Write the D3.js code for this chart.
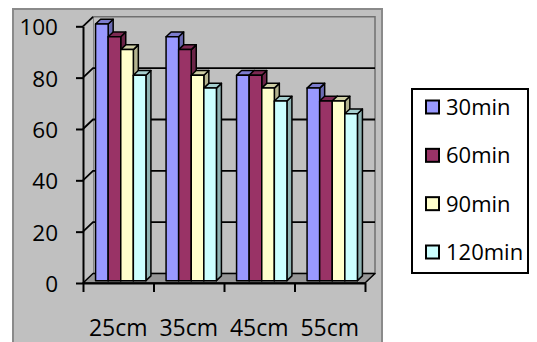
<!DOCTYPE html>
<html>
<head>
<meta charset="utf-8">
<script src="https://cdn.jsdelivr.net/npm/d3@7"></script>
<style>
  html, body { margin: 0; padding: 0; background: #ffffff; }
  svg { display: block; }
</style>
</head>
<body>
<svg id="chart" width="537" height="342"></svg>
<script>
// ---- data ----
const categories = ["25cm", "35cm", "45cm", "55cm"];
const seriesNames = ["30min", "60min", "90min", "120min"];
const values30 = [100, 95, 80, 75];
const values60 = [95, 90, 80, 70];
const values90 = [90, 80, 75, 70];
const values120 = [80, 75, 70, 65];
const seriesColors = ["#9999FF", "#993366", "#FFFFCC", "#CCFFFF"];
const yTicks = [0, 20, 40, 60, 80, 100];

const seriesValues = [values30, values60, values90, values120];

const svg = d3.select("#chart");
const font = "'Open Sans', sans-serif";

// oblique projection: depth goes up and to the right
const DX = 10, DY = 9.5;
const z0 = 0.25, z1 = 0.75;       // bars sit in the middle of the floor depth

const frontLeft = 83, frontRight = 365, frontBase = 283, frontTop = 26.3;
const y = d3.scaleLinear().domain([0, 100]).range([frontBase, frontTop]);
const x0 = d3.scaleBand().domain(categories).range([frontLeft, frontRight]);
const x1 = d3.scaleBand().domain(seriesNames).range([0, x0.bandwidth()]).paddingOuter(0.8);
const P = (px, py, z) => [px + z * DX, py - z * DY];
const poly = pts => pts.map(p => p.join(",")).join(" ");

// ---- plot background ----
svg.append("rect")
  .attr("x", 13).attr("y", 9).attr("width", 369).attr("height", 345)
  .attr("fill", "#c0c0c0").attr("stroke", "#8a8a8a").attr("stroke-width", 2);

// ---- walls ----
const wall = svg.append("g");
// back wall
wall.append("polygon")
  .attr("points", poly([P(frontLeft, y(0), 1), P(frontLeft, y(100), 1), P(frontRight, y(100), 1), P(frontRight, y(0), 1)]))
  .attr("fill", "#c0c0c0").attr("stroke", "#707070").attr("stroke-width", 1.5);
// side wall
wall.append("polygon")
  .attr("points", poly([P(frontLeft, y(0), 0), P(frontLeft, y(100), 0), P(frontLeft, y(100), 1), P(frontLeft, y(0), 1)]))
  .attr("fill", "#c0c0c0").attr("stroke", "none");

// gridlines: diagonal on the side wall, horizontal on the back wall
const grid = svg.append("g").attr("stroke", "#000").attr("stroke-width", 1.8).attr("fill", "none");
yTicks.filter(v => v > 0).forEach(v => {
  const a = P(frontLeft, y(v), 0), b = P(frontLeft, y(v), 1), c = P(frontRight, y(v), 1);
  grid.append("polyline").attr("points", poly(v < 100 ? [a, b, c] : [a, b]));
});

// floor
svg.append("polygon")
  .attr("points", poly([P(frontLeft, y(0), 0), P(frontRight, y(0), 0), P(frontRight, y(0), 1), P(frontLeft, y(0), 1)]))
  .attr("fill", "#969696").attr("stroke", "#000").attr("stroke-width", 1.5).attr("stroke-linejoin", "round");

// ---- bars ----
const barsG = svg.append("g")
  .attr("stroke", "#000").attr("stroke-width", 1.5).attr("stroke-linejoin", "round");
const w = x1.bandwidth();
categories.forEach((cat, i) => {
  seriesNames.forEach((s, j) => {
    const v = seriesValues[j][i];
    const xl = x0(cat) + x1(s), xr = xl + w;
    const yt = y(v), yb = y(0);
    const col = d3.color(seriesColors[j]);
    const g = barsG.append("g");
    // right side face
    g.append("polygon")
      .attr("points", poly([P(xr, yt, z0), P(xr, yt, z1), P(xr, yb, z1), P(xr, yb, z0)]))
      .attr("fill", col.darker(1.0).formatHex());
    // top face
    g.append("polygon")
      .attr("points", poly([P(xl, yt, z0), P(xr, yt, z0), P(xr, yt, z1), P(xl, yt, z1)]))
      .attr("fill", col.darker(0.6).formatHex());
    // front face
    g.append("polygon")
      .attr("points", poly([P(xl, yt, z0), P(xr, yt, z0), P(xr, yb, z0), P(xl, yb, z0)]))
      .attr("fill", col.formatHex());
  });
});

// ---- axes ----
const yAxis = svg.append("g")
  .attr("transform", `translate(${frontLeft},0)`)
  .call(d3.axisLeft(y).tickValues(yTicks).tickSize(7).tickSizeOuter(0).tickPadding(18));
yAxis.select(".domain").attr("stroke", "#000").attr("stroke-width", 2);
yAxis.selectAll(".tick line").attr("stroke", "#000").attr("stroke-width", 2);
yAxis.selectAll("text")
  .attr("font-family", font).attr("font-size", 22.5).attr("fill", "#000")
  .attr("dy", "0.38em");

// category boundary ticks
const idx = d3.scaleLinear().domain([0, categories.length]).range([frontLeft, frontRight]);
const xTickAxis = svg.append("g")
  .attr("transform", `translate(0,${frontBase})`)
  .call(d3.axisBottom(idx).tickValues(d3.range(categories.length + 1)).tickFormat("").tickSize(9).tickSizeOuter(0));
xTickAxis.select(".domain").attr("stroke", "#000").attr("stroke-width", 2);
xTickAxis.selectAll(".tick line").attr("stroke", "#000").attr("stroke-width", 2);

// category labels
const xLabelAxis = svg.append("g")
  .attr("transform", `translate(0,${frontBase})`)
  .call(d3.axisBottom(x0).tickSize(0));
xLabelAxis.select(".domain").remove();
xLabelAxis.selectAll("text")
  .attr("font-family", font).attr("font-size", 23).attr("fill", "#000")
  .attr("y", 53).attr("dy", 0);

// ---- legend ----
const legend = svg.append("g");
legend.append("rect")
  .attr("x", 412).attr("y", 89).attr("width", 116).attr("height", 184)
  .attr("fill", "#fff").attr("stroke", "#000").attr("stroke-width", 2);
const itemY = d3.scalePoint().domain(seriesNames).range([107, 252]);
seriesNames.forEach((s, j) => {
  const cy = itemY(s);
  legend.append("rect")
    .attr("x", 426).attr("y", cy - 6.5).attr("width", 13).attr("height", 13)
    .attr("fill", seriesColors[j]).attr("stroke", "#000").attr("stroke-width", 2);
  legend.append("text")
    .attr("x", 446).attr("y", cy).attr("dy", "0.36em")
    .attr("font-family", font).attr("font-size", 22).attr("fill", "#000")
    .text(s);
});
</script>
</body>
</html>
